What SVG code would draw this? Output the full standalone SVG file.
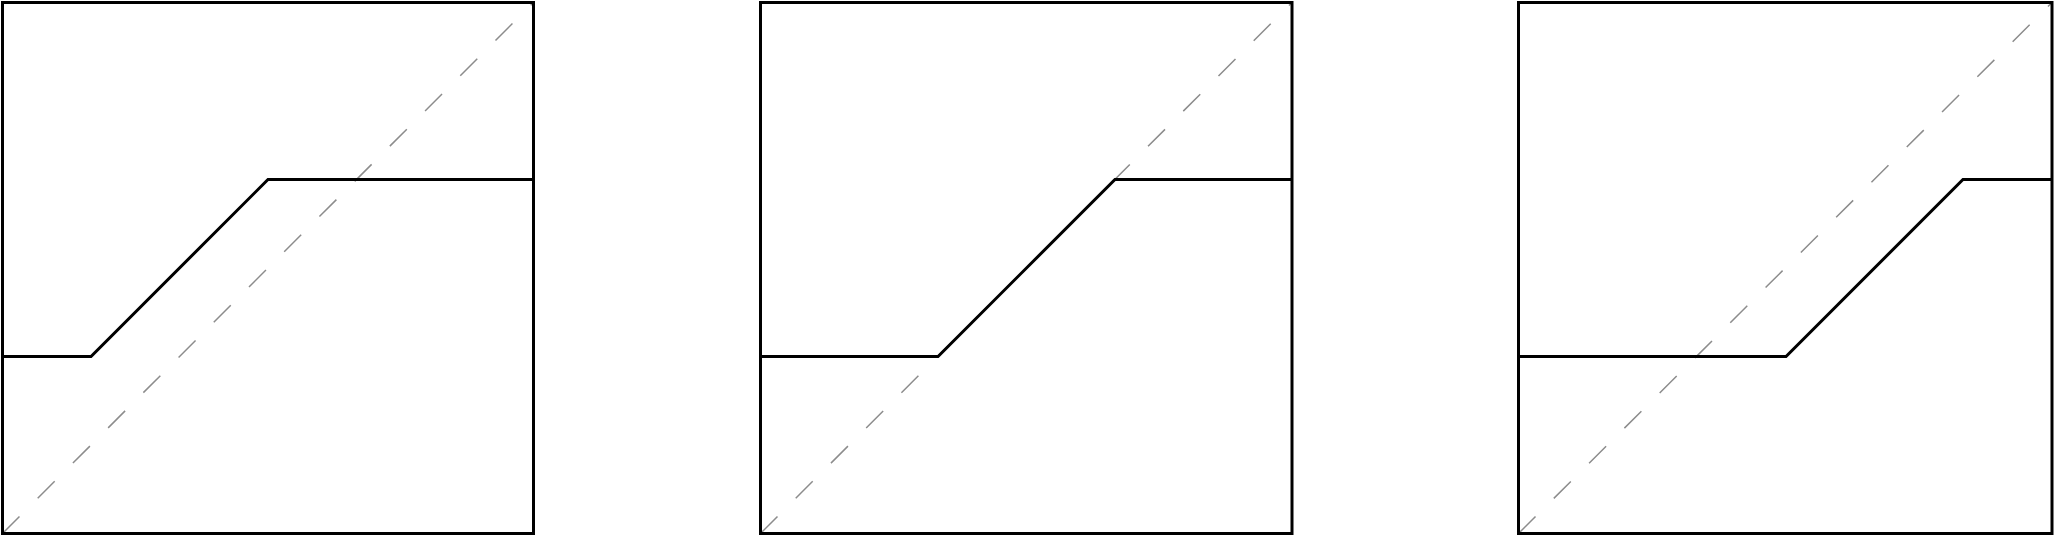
<svg xmlns="http://www.w3.org/2000/svg" width="2054" height="536" viewBox="0 0 2054 536">
<style>
.frame{fill:none;stroke:#000;stroke-width:3}
.curve{fill:none;stroke:#000;stroke-width:3;stroke-linejoin:miter}
.diag{fill:none;stroke:#8c8c8c;stroke-width:1.5;stroke-dasharray:24 25.8}
</style>
<rect width="2054" height="536" fill="#fff"/>
<g id="panel1">
<line class="diag" x1="2.5" y1="533.5" x2="533.5" y2="2.5"/>
<rect class="frame" x="2.5" y="2.5" width="531" height="531"/>
<polyline class="curve" points="2.5,356.5 91,356.5 268,179.5 533.5,179.5"/>
</g>
<g id="panel2">
<line class="diag" x1="760.5" y1="533.5" x2="1292" y2="2.5"/>
<rect class="frame" x="760.5" y="2.5" width="531.5" height="531"/>
<polyline class="curve" points="760.5,356.5 938,356.5 1115,179.5 1292,179.5"/>
</g>
<g id="panel3">
<line class="diag" x1="1518.5" y1="533.5" x2="2052" y2="2.5"/>
<rect class="frame" x="1518.5" y="2.5" width="533.5" height="531"/>
<polyline class="curve" points="1518.5,356.5 1786,356.5 1963,179.5 2052,179.5"/>
</g>
</svg>
